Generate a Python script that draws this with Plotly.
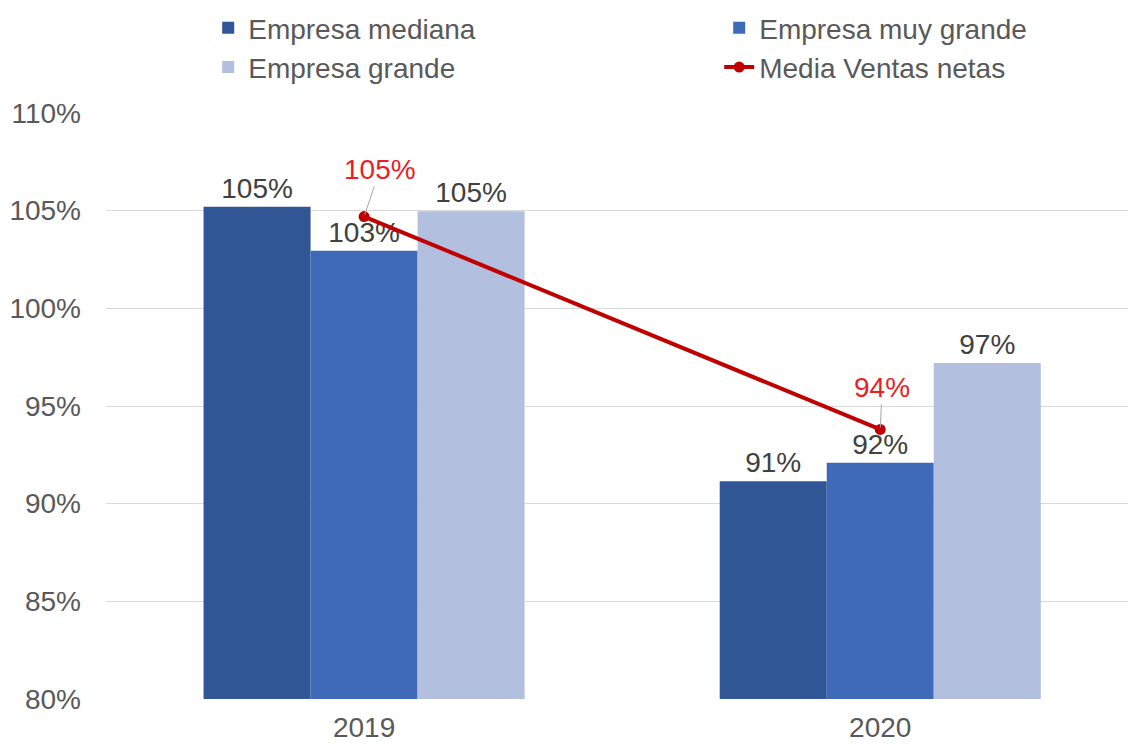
import plotly.graph_objects as go

# Ratios by company size (1.0 = 100%)
years = ["2019", "2020"]
empresa_mediana = [1.052, 0.9115]
empresa_muy_grande = [1.0295, 0.921]
empresa_grande = [1.0497, 0.972]
media_ventas_netas = [1.047, 0.938]

y_ticks = [0.80, 0.85, 0.90, 0.95, 1.00, 1.05, 1.10]

FONT = "Liberation Sans, Arial, sans-serif"
TEXT_GREY = "#595959"
LABEL_GREY = "#404040"
FS = 28

fig = go.Figure()

# (name, values, colour, legend column)
bar_series = [
    ("Empresa mediana", empresa_mediana, "#305696", "legend"),
    ("Empresa muy grande", empresa_muy_grande, "#3E6AB8", "legend2"),
    ("Empresa grande", empresa_grande, "#B2BFDF", "legend"),
]
for name, vals, color, leg in bar_series:
    fig.add_trace(go.Bar(
        name=name, x=years, y=vals, legend=leg, legendgroup=name,
        marker=dict(color=color, line=dict(width=0)),
        texttemplate="%{y:.0%}", textposition="outside",
        textfont=dict(family=FONT, size=FS, color=LABEL_GREY),
        cliponaxis=False,
    ))

fig.add_trace(go.Scatter(
    name="Media Ventas netas", x=years, y=media_ventas_netas,
    legend="legend2", legendgroup="media",
    mode="lines+markers",
    line=dict(color="#C00000", width=4),
    marker=dict(color="#C00000", size=11),
    cliponaxis=False,
))

# red value callouts for the average line, with thin leader lines
offsets = [(16, -47), (2, -42)]
for i, (v, (ax, ay)) in enumerate(zip(media_ventas_netas, offsets)):
    fig.add_annotation(
        x=i, y=v, xref="x", yref="y",
        text=f"{v:.0%}", showarrow=True,
        ax=ax, ay=ay, arrowhead=0, arrowwidth=1, arrowcolor="#A6A6A6",
        standoff=2, startstandoff=0,
        font=dict(family=FONT, size=FS, color="#EE1C25"),
    )

legend_style = dict(
    orientation="v", xanchor="left", yref="container", yanchor="top", y=0.996,
    font=dict(family=FONT, size=FS, color=TEXT_GREY),
    bgcolor="rgba(0,0,0,0)", traceorder="normal", tracegroupgap=4,
)

fig.update_layout(
    width=1128, height=744, autosize=False,
    margin=dict(l=106, r=0, t=113, b=45, autoexpand=False),
    paper_bgcolor="white", plot_bgcolor="white",
    font=dict(family=FONT, size=FS, color=TEXT_GREY),
    barmode="group", bargap=0.378, bargroupgap=0,
    showlegend=True,
    legend=dict(x=0.1, **legend_style),
    legend2=dict(x=0.6, **legend_style),
    xaxis=dict(
        type="category", range=[-0.5, 1.48],
        showgrid=False, zeroline=False, showline=False,
        ticks="", ticklabelstandoff=9,
        tickfont=dict(family=FONT, size=FS, color=TEXT_GREY),
    ),
    yaxis=dict(
        range=[0.80, 1.10], tickvals=y_ticks, tickformat=".0%",
        showgrid=True, gridcolor="#D9D9D9", gridwidth=1,
        zeroline=False, showline=False, ticks="",
        ticklabelstandoff=24,
        tickfont=dict(family=FONT, size=FS, color=TEXT_GREY),
    ),
)

fig.write_html("out.html")
